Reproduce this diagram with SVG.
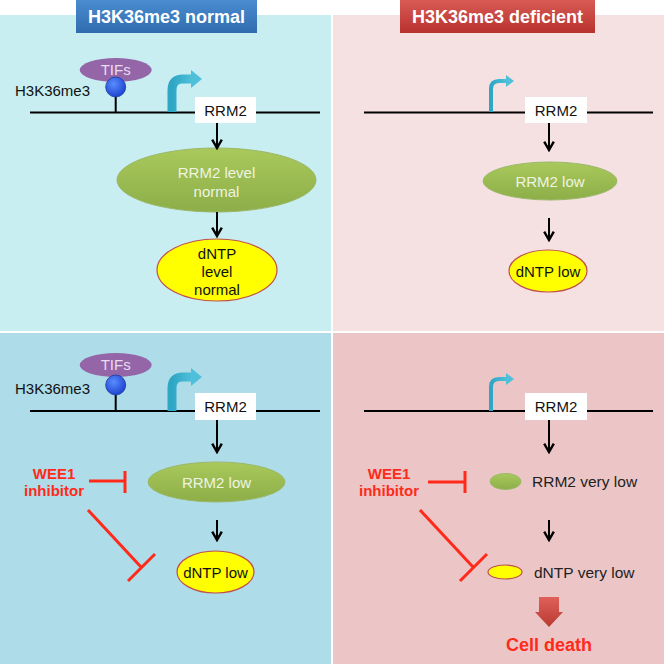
<svg xmlns="http://www.w3.org/2000/svg" width="664" height="664" viewBox="0 0 664 664">
<defs>
<style>
.t{font-family:"Liberation Sans",Arial,sans-serif}
.dna{stroke:#000;stroke-width:2;fill:none}
.arr{stroke:#000;stroke-width:2;fill:none;marker-end:url(#ah)}
.inh{stroke:#FF2A1A;stroke-width:3;fill:none}
.box{fill:#fff}
.green{fill:url(#gg);stroke:#9BB86A;stroke-width:1}
.yellow{fill:#FFFF00;stroke:#C0504D;stroke-width:1.2}
.tss{fill:none;stroke:url(#tg);stroke-linecap:butt}
</style>
<linearGradient id="gg" x1="0" y1="0" x2="0" y2="1"><stop offset="0" stop-color="#A9C95C"/><stop offset="1" stop-color="#8DAE48"/></linearGradient>
<linearGradient id="tg" x1="0" y1="0" x2="1" y2="0"><stop offset="0" stop-color="#2EA6C4"/><stop offset="1" stop-color="#4FC0DA"/></linearGradient>
<linearGradient id="hb" x1="0" y1="0" x2="0" y2="1"><stop offset="0" stop-color="#4A8CD0"/><stop offset="1" stop-color="#2F6CAE"/></linearGradient>
<linearGradient id="hr" x1="0" y1="0" x2="0" y2="1"><stop offset="0" stop-color="#D85A55"/><stop offset="1" stop-color="#B8322E"/></linearGradient>
<linearGradient id="cd" x1="0" y1="0" x2="0" y2="1"><stop offset="0" stop-color="#E0605A"/><stop offset="1" stop-color="#B83A30"/></linearGradient>
<radialGradient id="bc" cx="0.4" cy="0.35" r="0.7"><stop offset="0" stop-color="#5A8CFF"/><stop offset="1" stop-color="#1A3FCC"/></radialGradient>
<marker id="ah" viewBox="0 0 10 10" refX="8" refY="5" markerWidth="6" markerHeight="6" orient="auto" markerUnits="strokeWidth">
<path d="M1,1 L8,5 L1,9" fill="none" stroke="#000" stroke-width="2"/>
</marker>
</defs>
<rect width="664" height="664" fill="#fff"/>
<g id="panels">
<rect x="0" y="15" width="331" height="316" fill="#C8EEF2"/>
<rect x="333" y="15" width="331" height="316" fill="#F5E1E1"/>
<rect x="0" y="333" width="331" height="331" fill="#AEDCE8"/>
<rect x="333" y="333" width="331" height="331" fill="#ECC6C6"/>
</g>
<g id="header-normal">
<rect x="76" y="0" width="181" height="33" fill="url(#hb)"/>
<text class="t" x="166.5" y="23" text-anchor="middle" font-size="18" font-weight="bold" fill="#fff">H3K36me3 normal</text>
</g>
<g id="header-deficient">
<rect x="400" y="0" width="195" height="33" fill="url(#hr)"/>
<text class="t" x="497.5" y="23" text-anchor="middle" font-size="18" font-weight="bold" fill="#fff">H3K36me3 deficient</text>
</g>

<!-- Top-left -->
<g id="tl-dna">
<line class="dna" x1="30" y1="112.5" x2="320" y2="112.5"/>
<line class="dna" x1="115.7" y1="92" x2="115.7" y2="112.5"/>
<text class="t" x="15" y="96" font-size="15" fill="#111">H3K36me3</text>
</g>
<g id="tl-tifs">
<ellipse cx="115.7" cy="70" rx="36" ry="12" fill="#9466A8"/>
<text class="t" x="115.7" y="75" text-anchor="middle" font-size="15" fill="#E8DCF0">TIFs</text>
<circle cx="115.7" cy="87" r="10" fill="url(#bc)" stroke="#1A3AA0" stroke-width="0.8"/>
</g>
<g id="tl-tss">
<path class="tss" d="M172,112 V90 Q172,79 183,79 H192" stroke-width="9"/>
<path d="M191,70 L202,79 L191,88 Z" fill="#4FC0DA"/>
</g>
<g id="tl-rrm2">
<rect class="box" x="195" y="97" width="61" height="26"/>
<text class="t" x="225.5" y="116" text-anchor="middle" font-size="15" fill="#111">RRM2</text>
</g>
<g id="tl-rrm2level">
<ellipse class="green" cx="216.5" cy="180" rx="99.5" ry="32"/>
<text class="t" x="216.5" y="177.5" text-anchor="middle" font-size="15" fill="#EEF4E0">RRM2 level</text>
<text class="t" x="216.5" y="196.5" text-anchor="middle" font-size="15" fill="#EEF4E0">normal</text>
</g>
<g id="tl-dntp">
<ellipse class="yellow" cx="217" cy="270" rx="60" ry="31"/>
<text class="t" x="217" y="259" text-anchor="middle" font-size="15" fill="#111">dNTP</text>
<text class="t" x="217" y="277" text-anchor="middle" font-size="15" fill="#111">level</text>
<text class="t" x="217" y="295" text-anchor="middle" font-size="15" fill="#111">normal</text>
</g>

<!-- Top-right -->
<g id="tr-dna">
<line class="dna" x1="364" y1="112.5" x2="653" y2="112.5"/>
</g>
<g id="tr-tss">
<path class="tss" d="M491,112 V89 Q491,81 499,81 H507" stroke-width="4"/>
<path d="M506,75 L514,81 L506,87 Z" fill="#4FC0DA"/>
</g>
<g id="tr-rrm2">
<rect class="box" x="525" y="97" width="62" height="26"/>
<text class="t" x="556" y="116" text-anchor="middle" font-size="15" fill="#111">RRM2</text>
</g>
<g id="tr-rrm2low">
<ellipse class="green" cx="550" cy="181" rx="67" ry="19"/>
<text class="t" x="550" y="186.5" text-anchor="middle" font-size="15" fill="#EEF4E0">RRM2 low</text>
</g>
<g id="tr-dntp">
<ellipse class="yellow" cx="548" cy="271" rx="39" ry="21"/>
<text class="t" x="548" y="276.5" text-anchor="middle" font-size="15" fill="#111">dNTP low</text>
</g>

<!-- Bottom-left -->
<g id="bl-dna">
<line class="dna" x1="30" y1="411" x2="320" y2="411"/>
<line class="dna" x1="115.7" y1="390" x2="115.7" y2="411"/>
<text class="t" x="15" y="394" font-size="15" fill="#111">H3K36me3</text>
</g>
<g id="bl-tifs">
<ellipse cx="115.7" cy="365" rx="36" ry="12" fill="#9466A8"/>
<text class="t" x="115.7" y="370" text-anchor="middle" font-size="15" fill="#E8DCF0">TIFs</text>
<circle cx="115.7" cy="385" r="10" fill="url(#bc)" stroke="#1A3AA0" stroke-width="0.8"/>
</g>
<g id="bl-tss">
<path class="tss" d="M172,411 V388 Q172,377 183,377 H192" stroke-width="9"/>
<path d="M191,368 L202,377 L191,386 Z" fill="#4FC0DA"/>
</g>
<g id="bl-rrm2">
<rect class="box" x="195" y="393" width="61" height="27"/>
<text class="t" x="225.5" y="412" text-anchor="middle" font-size="15" fill="#111">RRM2</text>
</g>
<g id="bl-rrm2low">
<ellipse class="green" cx="216.5" cy="482" rx="68.5" ry="20"/>
<text class="t" x="216.5" y="487.5" text-anchor="middle" font-size="15" fill="#EEF4E0">RRM2 low</text>
</g>
<g id="bl-dntp">
<ellipse class="yellow" cx="215.5" cy="572" rx="38.5" ry="21"/>
<text class="t" x="215.5" y="577.5" text-anchor="middle" font-size="15" fill="#111">dNTP low</text>
</g>
<g id="bl-wee1">
<text class="t" x="54" y="479" text-anchor="middle" font-size="15" font-weight="bold" fill="#FF2A1A">WEE1</text>
<text class="t" x="54" y="496" text-anchor="middle" font-size="15" font-weight="bold" fill="#FF2A1A">inhibitor</text>
</g>

<!-- Bottom-right -->
<g id="br-dna">
<line class="dna" x1="364" y1="411" x2="653" y2="411"/>
</g>
<g id="br-tss">
<path class="tss" d="M491,411 V387 Q491,379 499,379 H507" stroke-width="4"/>
<path d="M506,373 L514,379 L506,385 Z" fill="#4FC0DA"/>
</g>
<g id="br-rrm2">
<rect class="box" x="525" y="393" width="62" height="27"/>
<text class="t" x="556" y="412" text-anchor="middle" font-size="15" fill="#111">RRM2</text>
</g>
<g id="br-rrm2verylow">
<ellipse class="green" cx="505.5" cy="481.5" rx="15.5" ry="8"/>
<text class="t" x="532" y="487" font-size="15.5" fill="#222">RRM2 very low</text>
</g>
<g id="br-dntp">
<ellipse class="yellow" cx="505" cy="572" rx="17" ry="7"/>
<text class="t" x="534" y="578" font-size="15.5" fill="#222">dNTP very low</text>
</g>
<g id="br-wee1">
<text class="t" x="389" y="479" text-anchor="middle" font-size="15" font-weight="bold" fill="#FF2A1A">WEE1</text>
<text class="t" x="389" y="496" text-anchor="middle" font-size="15" font-weight="bold" fill="#FF2A1A">inhibitor</text>
</g>
<g id="br-celldeath">
<path d="M539,597 H559 V612 H563 L549,627 L535,612 H539 Z" fill="url(#cd)"/>
<text class="t" x="549" y="651" text-anchor="middle" font-size="18" font-weight="bold" fill="#FF2A1A">Cell death</text>
</g>

<g id="connectors">
<line class="arr" x1="217" y1="123" x2="217" y2="148"/>
<line class="arr" x1="217" y1="212" x2="217" y2="236"/>
<line class="arr" x1="549" y1="123" x2="549" y2="150"/>
<line class="arr" x1="549" y1="218" x2="549" y2="240"/>
<line class="arr" x1="217" y1="420" x2="217" y2="452"/>
<line class="arr" x1="217" y1="520" x2="217" y2="540"/>
<line class="arr" x1="549" y1="420" x2="549" y2="452"/>
<line class="arr" x1="549" y1="520" x2="549" y2="540"/>
<path class="inh" d="M89,481 H125 M125,471 V493"/>
<path class="inh" d="M88,510 L141,567 M128,581 L155,554"/>
<path class="inh" d="M428,482 H465 M465,471 V493"/>
<path class="inh" d="M420,510 L473,567 M460,581 L487,554"/>
</g>
</svg>
